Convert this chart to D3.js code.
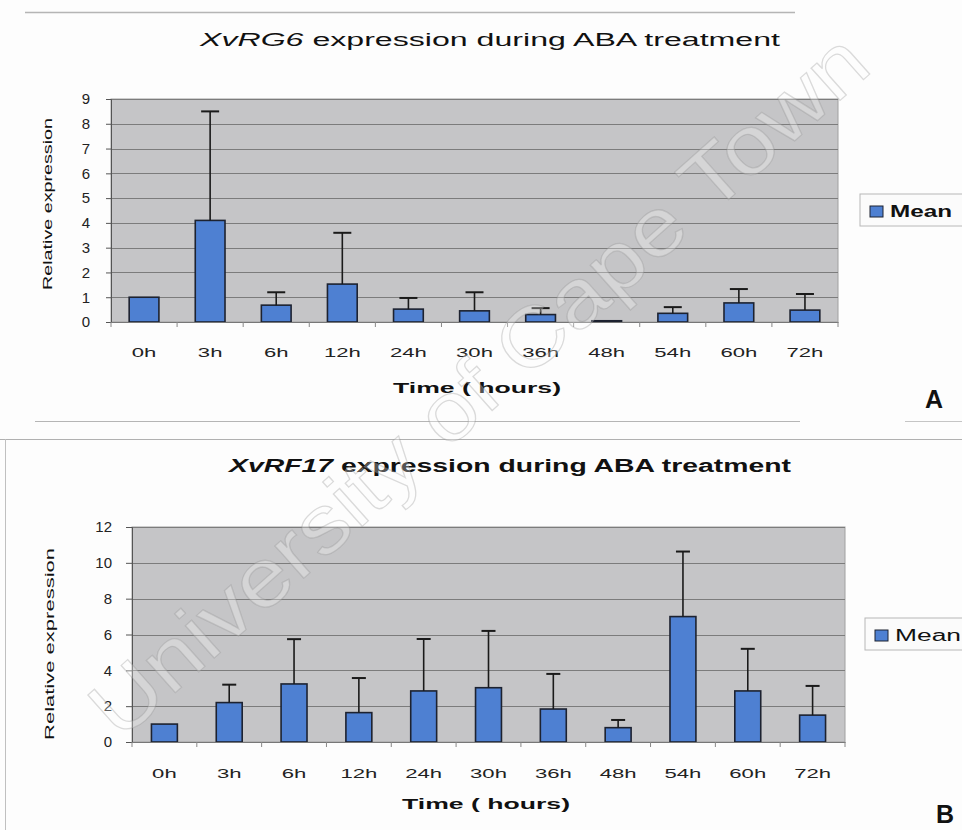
<!DOCTYPE html>
<html>
<head>
<meta charset="utf-8">
<script src="https://cdn.jsdelivr.net/npm/d3@7/dist/d3.min.js"></script>
<style>
  html, body { margin: 0; padding: 0; background: #fdfdfd; }
  svg { display: block; font-family: "Liberation Sans", Arial, sans-serif; }
</style>
</head>
<body>
<svg id="chart" width="962" height="830"></svg>
<script>
// ---- data ----
const categories = ["0h", "3h", "6h", "12h", "24h", "30h", "36h", "48h", "54h", "60h", "72h"];
const meanA = [1.0, 4.1, 0.68, 1.53, 0.52, 0.45, 0.3, 0.05, 0.35, 0.77, 0.48];
const errA  = [0, 4.4, 0.52, 2.07, 0.45, 0.75, 0.26, 0, 0.25, 0.56, 0.65];
const meanB = [1.0, 2.2, 3.24, 1.64, 2.85, 3.03, 1.84, 0.8, 7.0, 2.85, 1.5];
const errB  = [0, 1.0, 2.5, 1.93, 2.9, 3.17, 1.96, 0.43, 3.63, 2.35, 1.63];
const yTicksA = [0, 1, 2, 3, 4, 5, 6, 7, 8, 9];
const yTicksB = [0, 2, 4, 6, 8, 10, 12];
const seriesName = "Mean";
const xTitle = "Time ( hours)";
const yTitle = "Relative expression";

const svg = d3.select("#chart");

// frame lines
svg.append("line").attr("x1", 25).attr("x2", 795).attr("y1", 12.5).attr("y2", 12.5)
  .attr("stroke", "#b5b5b5").attr("stroke-width", 1.5);
svg.append("line").attr("x1", 35).attr("x2", 800).attr("y1", 421.5).attr("y2", 421.5)
  .attr("stroke", "#b5b5b5").attr("stroke-width", 1.2);
svg.append("line").attr("x1", 905).attr("x2", 962).attr("y1", 421.5).attr("y2", 421.5)
  .attr("stroke", "#c5c5c5").attr("stroke-width", 1);
svg.append("line").attr("x1", 0).attr("x2", 962).attr("y1", 439.5).attr("y2", 439.5)
  .attr("stroke", "#b0b0b0").attr("stroke-width", 1.2);
svg.append("line").attr("x1", 5.5).attr("x2", 5.5).attr("y1", 439).attr("y2", 830)
  .attr("stroke", "#c0c0c0").attr("stroke-width", 1);

function drawChart(cfg) {
  const g = svg.append("g");
  const x = d3.scaleBand().domain(categories).range([cfg.left, cfg.right])
    .paddingInner(cfg.pad).paddingOuter(cfg.pad / 2);
  const y = d3.scaleLinear().domain([0, cfg.yMax]).range([cfg.bottom, cfg.top]);

  // plot area
  g.append("rect").attr("x", cfg.left).attr("y", cfg.top)
    .attr("width", cfg.right - cfg.left).attr("height", cfg.bottom - cfg.top)
    .attr("fill", "#c5c5c7").attr("stroke", "#a0a0a0").attr("stroke-width", 1);

  // gridlines
  g.selectAll(".grid").data(cfg.yTicks.filter(d => d > 0)).join("line")
    .attr("x1", cfg.left).attr("x2", cfg.right)
    .attr("y1", d => Math.round(y(d)) + 0.5).attr("y2", d => Math.round(y(d)) + 0.5)
    .attr("stroke", "#7c7c7c").attr("stroke-width", 1);

  // bars
  g.selectAll(".bar").data(cfg.means).join("rect")
    .attr("x", (d, i) => x(categories[i]))
    .attr("y", d => y(d))
    .attr("width", x.bandwidth())
    .attr("height", d => cfg.bottom - y(d))
    .attr("fill", "#4e80d2").attr("stroke", "#1d2230").attr("stroke-width", 1.6);

  // error bars (upper only)
  const eb = cfg.means.map((m, i) => ({ m, e: cfg.errs[i], c: categories[i] })).filter(d => d.e > 0);
  g.selectAll(".ev").data(eb).join("line")
    .attr("x1", d => x(d.c) + x.bandwidth() / 2).attr("x2", d => x(d.c) + x.bandwidth() / 2)
    .attr("y1", d => y(d.m)).attr("y2", d => y(d.m + d.e))
    .attr("stroke", "#1a1a1a").attr("stroke-width", 1.6);
  g.selectAll(".ec").data(eb).join("line")
    .attr("x1", d => x(d.c) + x.bandwidth() / 2 - cfg.cap).attr("x2", d => x(d.c) + x.bandwidth() / 2 + cfg.cap)
    .attr("y1", d => y(d.m + d.e)).attr("y2", d => y(d.m + d.e))
    .attr("stroke", "#1a1a1a").attr("stroke-width", 2);

  // y axis
  const ya = g.append("g").attr("transform", `translate(${cfg.left},0)`)
    .call(d3.axisLeft(y).tickValues(cfg.yTicks).tickSize(cfg.tickSize).tickPadding(cfg.yPad).tickFormat(d3.format("d")));
  ya.select(".domain").attr("stroke", "#555");
  ya.selectAll(".tick line").attr("stroke", "#555");
  ya.selectAll("text").attr("font-size", 15).attr("fill", "#222")
    .attr("font-family", "'Liberation Sans', Arial, sans-serif");

  // x axis: labels
  const xa = g.append("g").attr("transform", `translate(0,${cfg.bottom})`)
    .call(d3.axisBottom(x).tickSize(0));
  xa.select(".domain").attr("stroke", "#777");
  xa.selectAll("text").attr("font-size", 13).attr("fill", "#222")
    .attr("font-family", "'Liberation Sans', Arial, sans-serif")
    .attr("dy", null).attr("y", cfg.xLabY)
    .attr("transform", "scale(1.7,1)");
  // x axis: boundary ticks
  const bounds = categories.map(c => x(c) - x.step() * cfg.pad / 2).concat([cfg.right]);
  g.selectAll(".xt").data(bounds).join("line")
    .attr("x1", d => d).attr("x2", d => d)
    .attr("y1", cfg.bottom).attr("y2", cfg.bottom + 5)
    .attr("stroke", "#888");

  // y title
  g.append("text")
    .attr("transform", `translate(${cfg.yTitleX},${cfg.yTitleY}) rotate(-90)`)
    .attr("text-anchor", "middle").attr("font-size", 12).attr("fill", "#111")
    .attr("textLength", cfg.yTitleLen).attr("lengthAdjust", "spacingAndGlyphs")
    .text(yTitle);

  // x title
  g.append("text").attr("x", cfg.xTitleX).attr("y", cfg.xTitleY)
    .attr("text-anchor", "middle").attr("font-size", 15).attr("font-weight", "bold").attr("fill", "#111")
    .attr("textLength", 168).attr("lengthAdjust", "spacingAndGlyphs")
    .text(xTitle);

  // chart title
  const t = g.append("text").attr("x", cfg.titleX).attr("y", cfg.titleY)
    .attr("text-anchor", "middle").attr("font-size", 18).attr("fill", "#111")
    .attr("font-weight", cfg.titleBold ? "bold" : "normal")
    .attr("textLength", cfg.titleLen).attr("lengthAdjust", "spacingAndGlyphs");
  t.append("tspan").attr("font-style", "italic").text(cfg.gene);
  t.append("tspan").text(" expression during ABA treatment");

  // legend
  const lg = g.append("g");
  lg.append("rect").attr("x", cfg.legX).attr("y", cfg.legY).attr("width", 962 - cfg.legX + 4).attr("height", 32)
    .attr("fill", "#fbfbfb").attr("stroke", "#b8b8b8").attr("stroke-width", 1);
  lg.append("rect").attr("x", cfg.legX + 10).attr("y", cfg.legY + 12).attr("width", 13).attr("height", 11)
    .attr("fill", "#4e80d2").attr("stroke", "#1d2230").attr("stroke-width", 1);
  lg.append("text").attr("x", cfg.legX + 30).attr("y", cfg.legY + 23)
    .attr("font-size", 16).attr("font-weight", cfg.legBold ? "bold" : "normal").attr("fill", "#111")
    .attr("textLength", cfg.legLen).attr("lengthAdjust", "spacingAndGlyphs")
    .text(seriesName);

  // panel letter
  g.append("text").attr("x", cfg.letterX).attr("y", cfg.letterY)
    .attr("font-size", 25).attr("font-weight", "bold").attr("fill", "#111")
    .text(cfg.letter);
}

drawChart({
  left: 111, right: 838, top: 99, bottom: 322, yMax: 9, yTicks: yTicksA,
  means: meanA, errs: errA, pad: 0.55, cap: 9, tickSize: 5, yPad: 16, xLabY: 35,
  yTitleX: 52, yTitleY: 204, yTitleLen: 172,
  xTitleX: 477, xTitleY: 393,
  gene: "XvRG6", titleX: 490, titleY: 46, titleLen: 580, titleBold: false,
  legX: 860, legY: 194, legBold: true, legLen: 62,
  letter: "A", letterX: 925, letterY: 408
});

drawChart({
  left: 132, right: 845, top: 527, bottom: 742, yMax: 12, yTicks: yTicksB,
  means: meanB, errs: errB, pad: 0.6, cap: 7, tickSize: 6, yPad: 14, xLabY: 36,
  yTitleX: 54, yTitleY: 644, yTitleLen: 192,
  xTitleX: 486, xTitleY: 809,
  gene: "XvRF17", titleX: 510, titleY: 472, titleLen: 562, titleBold: true,
  legX: 865, legY: 618, legBold: false, legLen: 66,
  letter: "B", letterX: 936, letterY: 823
});

// watermark
svg.append("text")
  .attr("transform", "translate(120,742) rotate(-41.7)")
  .attr("font-size", 82).attr("font-family", "'Liberation Sans', Arial, sans-serif")
  .attr("fill", "#ffffff").attr("fill-opacity", 0.28)
  .attr("stroke", "#8a8a8a").attr("stroke-opacity", 0.3).attr("stroke-width", 1.2)
  .attr("textLength", 1010).attr("lengthAdjust", "spacingAndGlyphs")
  .text("University of Cape Town");
</script>
</body>
</html>
